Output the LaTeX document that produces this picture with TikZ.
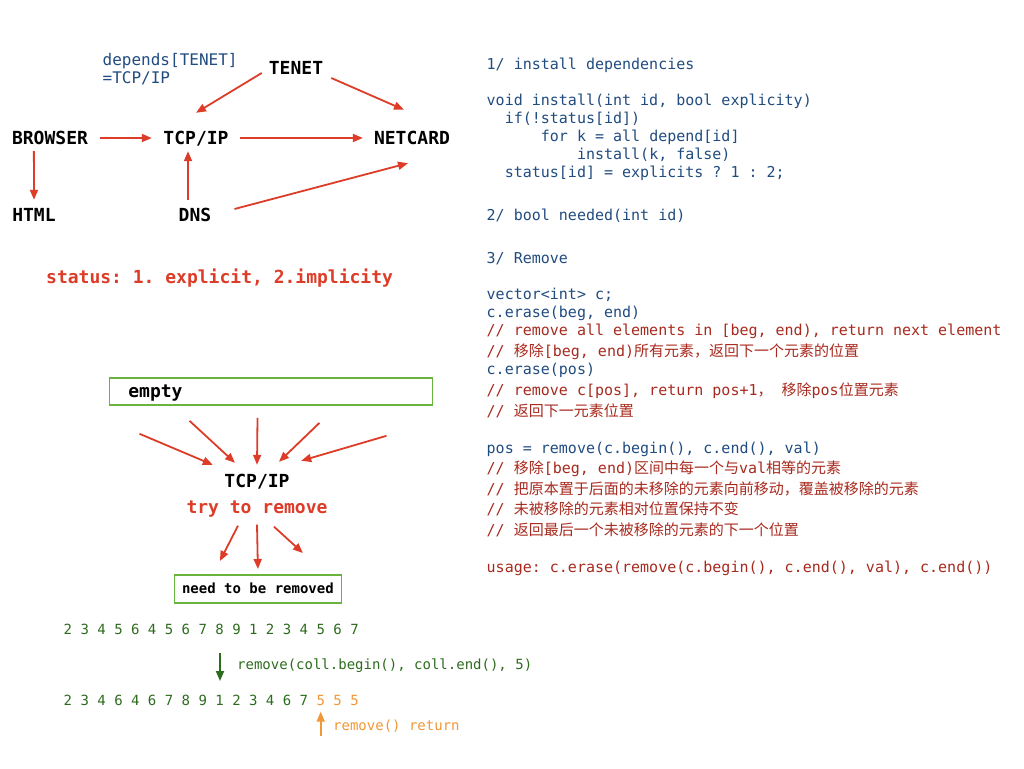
\documentclass[tikz,border=0pt]{standalone}
\usepackage{fontspec}
\setmonofont{DejaVu Sans Mono}
\newfontfamily\cjk{Noto Sans CJK SC}
\usetikzlibrary{arrows.meta}
\frenchspacing
\definecolor{cblue}{RGB}{33,76,128}
\definecolor{cdred}{RGB}{168,42,30}
\definecolor{cred}{RGB}{221,60,40}
\definecolor{cgreen}{RGB}{45,108,30}
\definecolor{corange}{RGB}{240,152,55}
\definecolor{cbox}{RGB}{104,180,62}
\newcommand\fcode{\ttfamily\fontsize{15}{18}\selectfont}
\newcommand\fdep{\ttfamily\fontsize{16}{19}\selectfont}
\newcommand\fbig{\ttfamily\bfseries\fontsize{18}{21}\selectfont}
\newcommand\fsmb{\ttfamily\bfseries\fontsize{14}{17}\selectfont}
\newcommand\fdig{\ttfamily\fontsize{14}{17}\selectfont}
\tikzset{
  gnode/.style={font=\fbig, inner sep=0pt, text height=13pt, text depth=0pt},
  code/.style={anchor=base west, inner sep=0pt, font=\fcode, text=cblue},
  cmt/.style={code, text=cdred},
  arr/.style={draw=cred, line width=1.8pt, -{Triangle[length=10pt,width=8pt]}},
  garr/.style={draw=cgreen, line width=1.8pt, -{Triangle[length=10pt,width=8pt]}},
  oarr/.style={draw=corange, line width=1.8pt, -{Triangle[length=10pt,width=8pt]}},
  gbox/.style={draw=cbox, line width=1.8pt, inner sep=0pt},
}
\begin{document}
\begin{tikzpicture}[x=1pt,y=-1pt]
\useasboundingbox (0,0) rectangle (1024,768);
\fill[white] (0,0) rectangle (1024,768);

% ---------- dependency graph ----------
\node[gnode] (tenet) at (296,68) {TENET};
\node[gnode] (browser) at (50,138) {BROWSER};
\node[gnode] (tcp) at (196,138) {TCP/IP};
\node[gnode] (netcard) at (412,138) {NETCARD};
\node[gnode] (html) at (34,215) {HTML};
\node[gnode] (dns) at (195,215) {DNS};
\node[anchor=base west, inner sep=0pt, font=\fdep, text=cblue] (dep1) at (102.5,65) {depends[TENET]};
\node[anchor=base west, inner sep=0pt, font=\fdep, text=cblue] (dep2) at (102.5,83.3) {=TCP/IP};

\draw[arr] ([shift={(-7,5)}]tenet.west) -- ([shift={(0,-18.5)}]tcp.north);
\draw[arr] ([shift={(8,10)}]tenet.east) -- ([shift={(-8,-21.5)}]netcard.north);
\draw[arr] ([shift={(12,0)}]browser.east) -- ([shift={(-11.5,0)}]tcp.west);
\draw[arr] ([shift={(11.5,0)}]tcp.east) -- ([shift={(-11,0)}]netcard.west);
\draw[arr] ([shift={(22,6.5)}]browser.south west) -- ([shift={(0,-8.5)}]html.north);
\draw[arr] ([shift={(-7,-8.5)}]dns.north) -- ([shift={(-8,6.5)}]tcp.south);
\draw[arr] ([shift={(23,-6)}]dns.east) -- ([shift={(-4,18.5)}]netcard.south);

\node[anchor=base west, inner sep=0pt, font=\fbig, text=cred] (status) at (46,283.5) {status: 1. explicit, 2.implicity};

% ---------- right column ----------
\node[code] (l1) at (486.5,69) {1/ install dependencies};
\node[code] (l2) at (486.5,105.5) {void install(int id, bool explicity)};
\node[code] (l3) at (486.5,123.5) {\ \ if(!status[id])};
\node[code] (l4) at (486.5,141.5) {\ \ \ \ \ \ for k = all depend[id]};
\node[code] (l5) at (486.5,159.5) {\ \ \ \ \ \ \ \ \ \ install(k, false)};
\node[code] (l6) at (486.5,177.5) {\ \ status[id] = explicits ? 1 : 2;};
\node[code] (l7) at (486.5,220.5) {2/ bool needed(int id)};
\node[code] (l8) at (486.5,263.5) {3/ Remove};
\node[code] (l9) at (486.5,299.5) {vector<int> c;};
\node[code] (l10) at (486.5,317.5) {c.erase(beg, end)};
\node[cmt] (l11) at (486.5,335.5) {// remove all elements in [beg, end), return next element};
\node[cmt] (l12) at (486.5,356) {// {\cjk 移除}[beg, end){\cjk 所有元素，返回下一个元素的位置}};
\node[code] (l13) at (486.5,374) {c.erase(pos)};
\node[cmt] (l14) at (486.5,395) {// remove c[pos], return pos+1{\cjk ，} {\cjk 移除}pos{\cjk 位置元素}};
\node[cmt] (l15) at (486.5,416) {// {\cjk 返回下一元素位置}};
\node[code] (l16) at (486.5,453) {pos = remove(c.begin(), c.end(), val)};
\node[cmt] (l17) at (486.5,473.5) {// {\cjk 移除}[beg, end){\cjk 区间中每一个与}val{\cjk 相等的元素}};
\node[cmt] (l18) at (486.5,494) {// {\cjk 把原本置于后面的未移除的元素向前移动，覆盖被移除的元素}};
\node[cmt] (l19) at (486.5,514.5) {// {\cjk 未被移除的元素相对位置保持不变}};
\node[cmt] (l20) at (486.5,535.5) {// {\cjk 返回最后一个未被移除的元素的下一个位置}};
\node[cmt] (l21) at (486.5,572) {usage: c.erase(remove(c.begin(), c.end(), val), c.end())};

% ---------- remove illustration ----------
\node[gbox, anchor=north west, minimum width=323pt, minimum height=27pt,
      text width=285pt, align=left, text height=15pt, text depth=2pt, font=\fbig]
      (emptybox) at (108.5,377) {empty};
\node[gnode] (tcp2) at (257,481) {TCP/IP};
\node[anchor=base, inner sep=0pt, font=\fbig, text=cred, text height=13pt, text depth=4pt] (tryrm) at (257,513) {try to remove};
\node[gbox, anchor=north west, minimum width=167pt, minimum height=28pt,
      text height=11pt, text depth=1pt, font=\fsmb] (needbox) at (173.5,574) {need to be removed};

\draw[arr] ([shift={(31,28)}]emptybox.south west) -- ([shift={(-11.5,-9.5)}]tcp2.north west);
\draw[arr] ([shift={(81,15)}]emptybox.south west) -- ([shift={(-22,-11.5)}]tcp2.north);
\draw[arr] ([shift={(149,12)}]emptybox.south west) -- ([shift={(0,-9.5)}]tcp2.north);
\draw[arr] ([shift={(211,17)}]emptybox.south west) -- ([shift={(22,-12.5)}]tcp2.north);
\draw[arr] ([shift={(278,30)}]emptybox.south west) -- ([shift={(11.5,-13.5)}]tcp2.north east);

\draw[arr] ([shift={(-19,8.5)}]tryrm.south) -- ([shift={(-38,-13)}]needbox.north);
\draw[arr] ([shift={(0,7.5)}]tryrm.south) -- ([shift={(0,-5)}]needbox.north);
\draw[arr] ([shift={(17,9.5)}]tryrm.south) -- ([shift={(45,-21)}]needbox.north);

% ---------- digits ----------
\node[anchor=base west, inner sep=0pt, font=\fdig, text=cgreen] (row1) at (63.5,634) {2 3 4 5 6 4 5 6 7 8 9 1 2 3 4 5 6 7};
\node[anchor=base west, inner sep=0pt, font=\fdig, text=cgreen] (row2) at (63.5,705) {2 3 4 6 4 6 7 8 9 1 2 3 4 6 7 \textcolor{corange}{5 5 5}};
\node[anchor=base west, inner sep=0pt, font=\fdig, text=cgreen] (call) at (237,669.5) {remove(coll.begin(), coll.end(), 5)};
\node[anchor=base west, inner sep=0pt, font=\fdig, text=corange] (ret) at (333,730.7) {remove() return};

\draw[garr] ([shift={(156.5,19)}]row1.base west) -- ([shift={(156.5,-24)}]row2.base west);
\draw[oarr] ([shift={(-12.3,5.3)}]ret.base west) -- ([shift={(257.2,6.7)}]row2.base west);
\end{tikzpicture}
\end{document}
